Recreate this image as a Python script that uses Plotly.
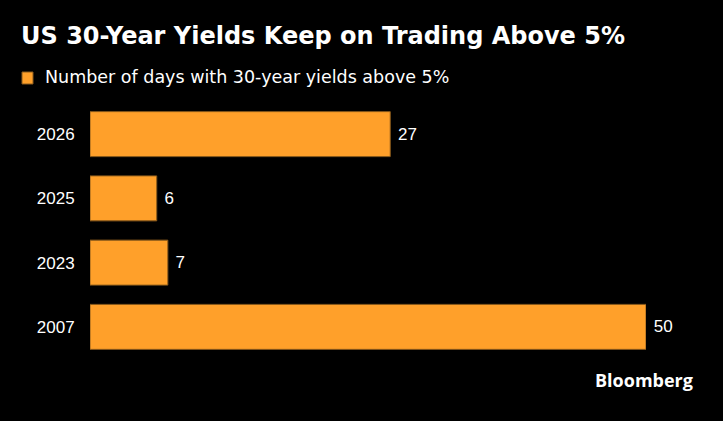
import plotly.graph_objects as go

years = ["2026", "2025", "2023", "2007"]
days = [27, 6, 7, 50]
series_name = "Number of days with 30-year yields above 5%"

L, R, T, B = 90, 77, 102, 62
W, H = 723, 421
PW, PH = W - L - R, H - T - B

fig = go.Figure()
fig.add_trace(go.Bar(
    y=years, x=days, orientation="h", name=series_name,
    marker=dict(color="#FFA02A", line=dict(color="#8A5A1C", width=1)),
    texttemplate=" %{x}", textposition="outside", cliponaxis=False,
    textfont=dict(color="white", size=17, family="Liberation Sans"),
    showlegend=False,
))
fig.update_layout(
    width=W, height=H,
    paper_bgcolor="black", plot_bgcolor="black",
    margin=dict(l=L, r=R, t=T, b=B, autoexpand=False),
    bargap=0.3,
    xaxis=dict(range=[0, 50], visible=False, showgrid=False, zeroline=False),
    yaxis=dict(categoryorder="array", categoryarray=years[::-1], showgrid=False,
               tickfont=dict(color="white", size=17, family="Liberation Sans"),
               ticks="outside", ticklen=11, tickcolor="black", zeroline=False, automargin=False),
    showlegend=False,
)
# title
fig.add_annotation(text="<b>US 30-Year Yields Keep on Trading Above 5%</b>", xref="paper", yref="paper",
                   x=(19 - L) / PW, y=1 + (T - 36) / PH, xanchor="left", yanchor="middle", showarrow=False,
                   font=dict(color="white", size=24, family="DejaVu Sans"))
# legend
fig.add_shape(type="rect", xref="paper", yref="paper",
              x0=(22 - L) / PW, x1=(33 - L) / PW, y0=1 + (T - 84) / PH, y1=1 + (T - 72) / PH,
              fillcolor="#FFA02A", line=dict(color="#8A5A1C", width=1))
fig.add_annotation(text=series_name, xref="paper", yref="paper",
                   x=(43 - L) / PW, y=1 + (T - 77) / PH, xanchor="left", yanchor="middle", showarrow=False,
                   font=dict(color="white", size=17.5, family="DejaVu Sans"))
fig.add_annotation(text="<b>Bloomberg</b>", xref="paper", yref="paper",
                   x=(695 - L) / PW, y=-(380 - (H - B)) / PH, xanchor="right", yanchor="middle", showarrow=False,
                   font=dict(color="white", size=18, family="Open Sans"))
fig.write_html("out.html")
